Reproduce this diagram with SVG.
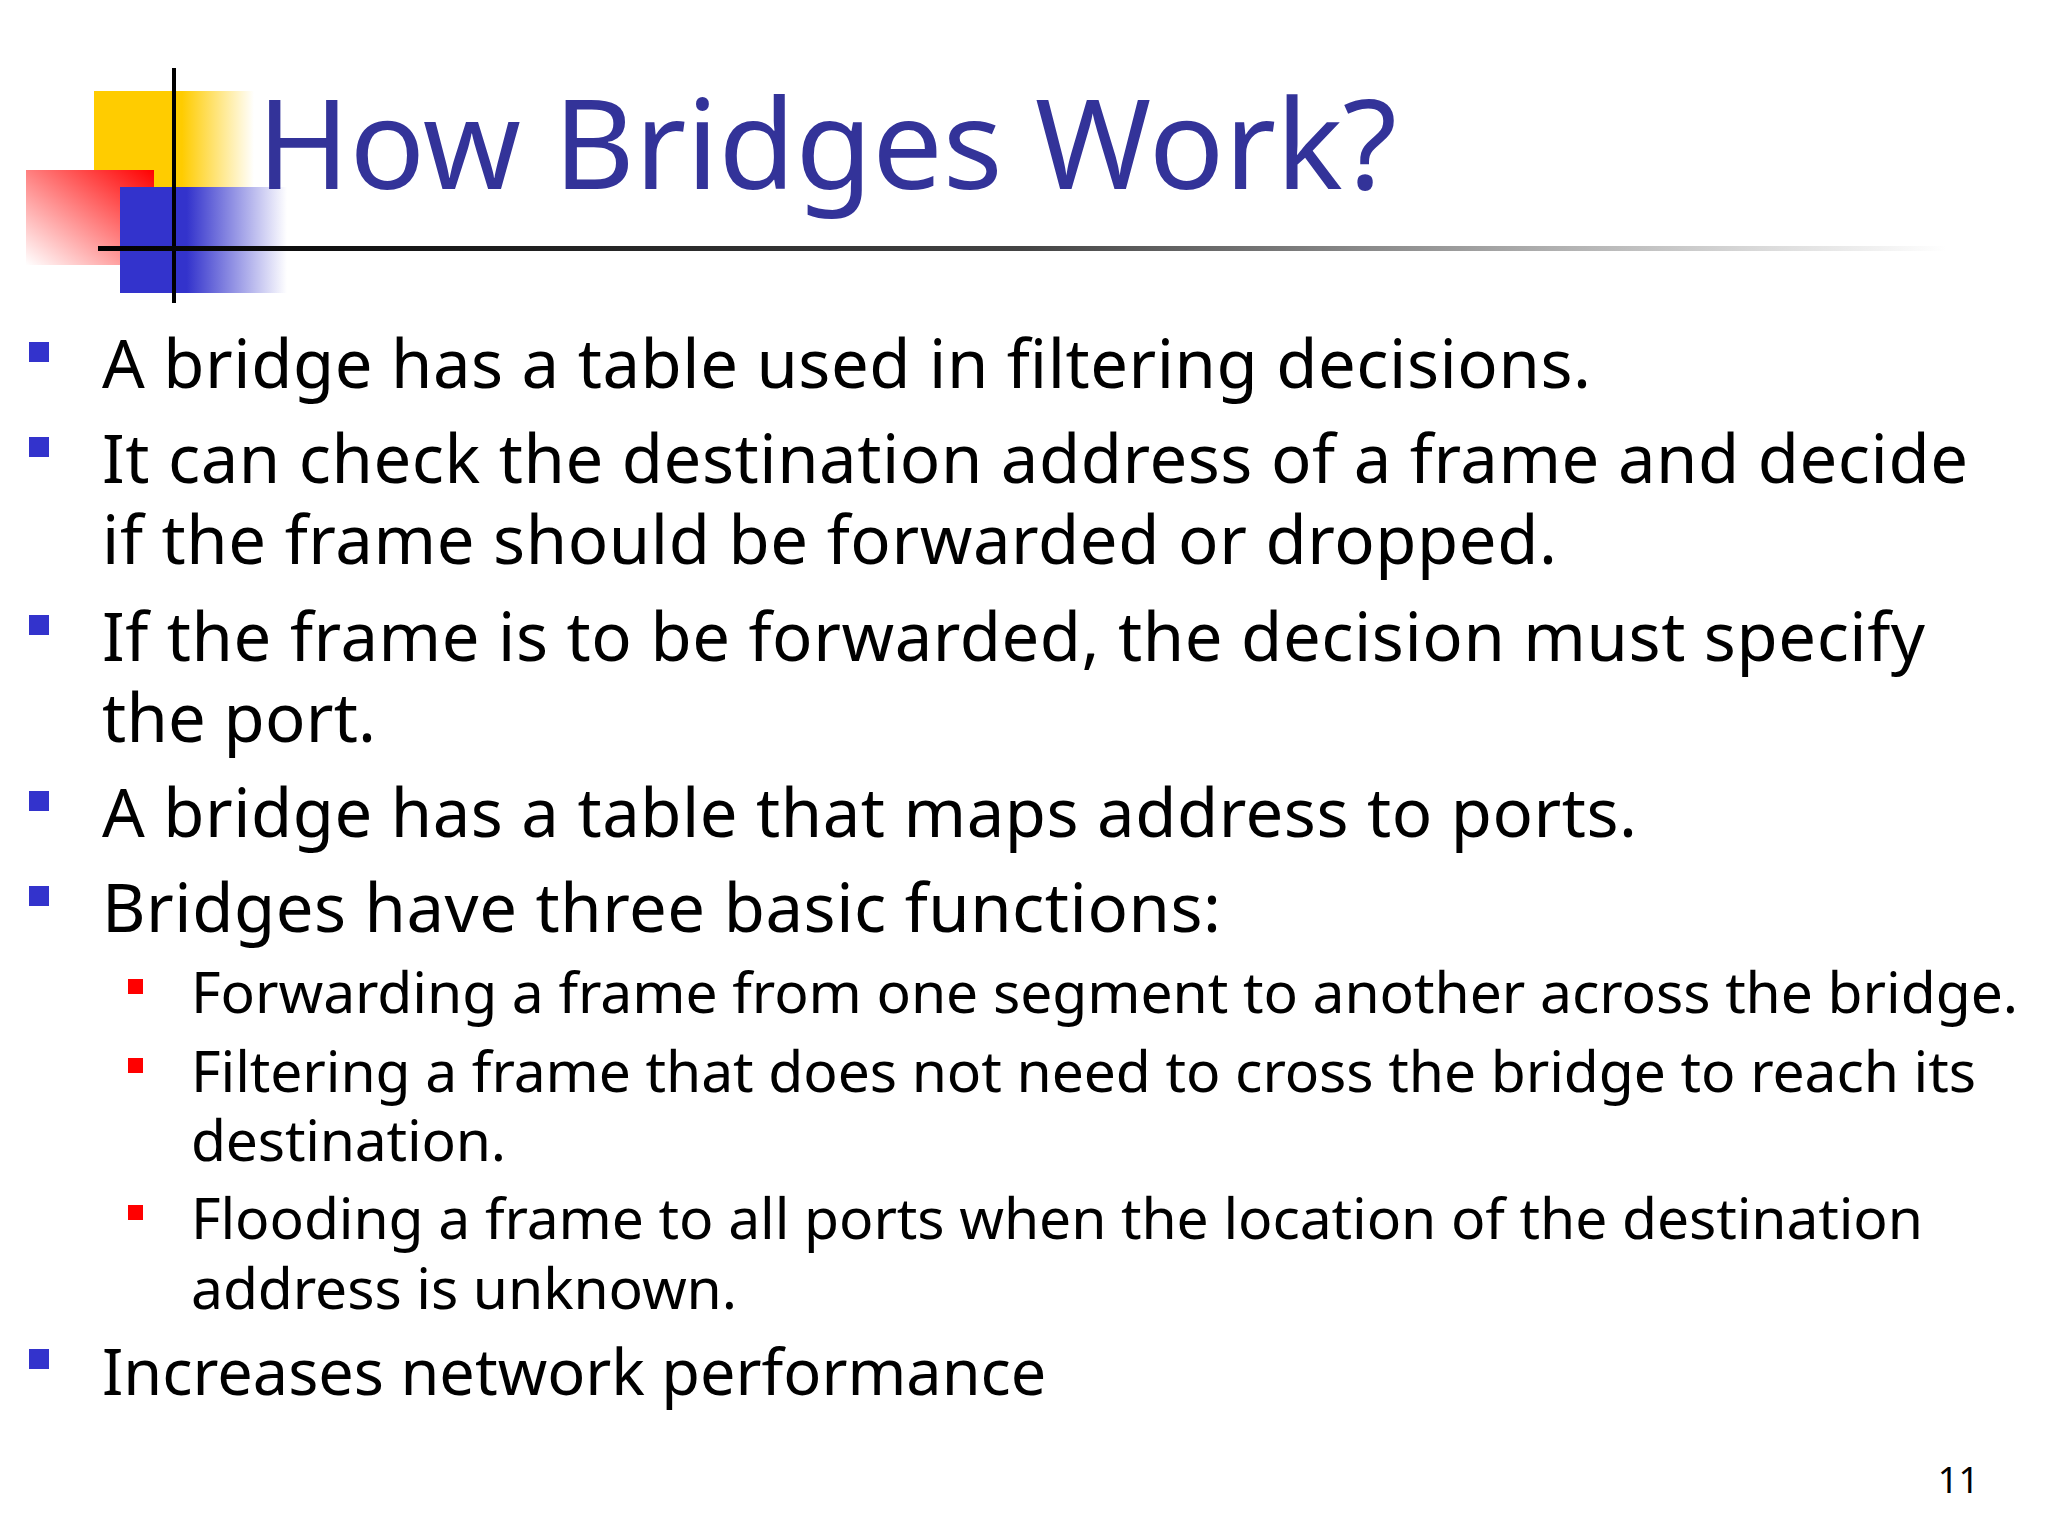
<svg xmlns="http://www.w3.org/2000/svg" width="2048" height="1536" viewBox="0 0 2048 1536">
<defs>
<linearGradient id="gy" x1="0" y1="0" x2="1" y2="0"><stop offset="0" stop-color="#ffcc00"/><stop offset="0.55" stop-color="#ffcc00"/><stop offset="1" stop-color="#ffffff"/></linearGradient>
<linearGradient id="gr" x1="1" y1="0" x2="0" y2="1"><stop offset="0" stop-color="#ff0000"/><stop offset="1" stop-color="#ffffff"/></linearGradient>
<linearGradient id="gb" x1="0" y1="0" x2="1" y2="0"><stop offset="0" stop-color="#3333cc"/><stop offset="0.4" stop-color="#3333cc"/><stop offset="1" stop-color="#ffffff"/></linearGradient>
<linearGradient id="gl" x1="0" y1="0" x2="1" y2="0"><stop offset="0" stop-color="#000"/><stop offset="0.5" stop-color="#444"/><stop offset="1" stop-color="#fff"/></linearGradient>
<style>
.t{font-family:"Noto Sans","Open Sans","DejaVu Sans",sans-serif;fill:#000}
.b{font-size:67px}.s{font-size:57px}
.bb{fill:#3333cc}.rb{fill:#ff0000}
</style>
</defs>
<rect width="2048" height="1536" fill="#fff"/>
<g id="logo">
<rect x="94" y="91" width="160" height="100" fill="url(#gy)"/>
<rect x="26" y="170" width="128" height="95" fill="url(#gr)"/>
<rect x="120" y="187" width="167" height="106" fill="url(#gb)"/>
<rect x="172" y="68" width="4" height="235" fill="#000"/>
<rect x="98" y="246" width="1848" height="5" fill="url(#gl)"/>
</g>
<text class="t" x="257" y="189" font-size="125" textLength="1140" lengthAdjust="spacing" style="fill:#333399">How Bridges Work?</text>
<g id="bullets">
<rect class="bb" x="29" y="342" width="20" height="20"/>
<rect class="bb" x="29" y="437" width="20" height="20"/>
<rect class="bb" x="29" y="615" width="20" height="20"/>
<rect class="bb" x="29" y="791" width="20" height="20"/>
<rect class="bb" x="29" y="886" width="20" height="20"/>
<rect class="bb" x="29" y="1349" width="20" height="20"/>
<rect class="rb" x="128" y="979" width="15" height="15"/>
<rect class="rb" x="128" y="1058" width="15" height="15"/>
<rect class="rb" x="128" y="1205" width="15" height="15"/>
</g>
<g id="text">
<text class="t b" x="102" y="388" textLength="1489" lengthAdjust="spacing">A bridge has a table used in filtering decisions.</text>
<text class="t b" x="102" y="483" textLength="1866" lengthAdjust="spacing">It can check the destination address of a frame and decide</text>
<text class="t b" x="102" y="564" textLength="1455" lengthAdjust="spacing">if the frame should be forwarded or dropped.</text>
<text class="t b" x="102" y="661" textLength="1823" lengthAdjust="spacing">If the frame is to be forwarded, the decision must specify</text>
<text class="t b" x="102" y="742" textLength="274" lengthAdjust="spacing">the port.</text>
<text class="t b" x="102" y="837" textLength="1535" lengthAdjust="spacing">A bridge has a table that maps address to ports.</text>
<text class="t b" x="102" y="932" textLength="1119" lengthAdjust="spacing">Bridges have three basic functions:</text>
<text class="t s" x="191" y="1013" textLength="1827" lengthAdjust="spacing">Forwarding a frame from one segment to another across the bridge.</text>
<text class="t s" x="191" y="1092" textLength="1785" lengthAdjust="spacing">Filtering a frame that does not need to cross the bridge to reach its</text>
<text class="t s" x="191" y="1161" textLength="315" lengthAdjust="spacing">destination.</text>
<text class="t s" x="191" y="1239" textLength="1732" lengthAdjust="spacing">Flooding a frame to all ports when the location of the destination</text>
<text class="t s" x="191" y="1309" textLength="546" lengthAdjust="spacing">address is unknown.</text>
<text class="t" x="102" y="1395" font-size="63">Increases network performance</text>
<text class="t" x="1979" y="1493" font-size="36" text-anchor="end">11</text>
</g>
</svg>
